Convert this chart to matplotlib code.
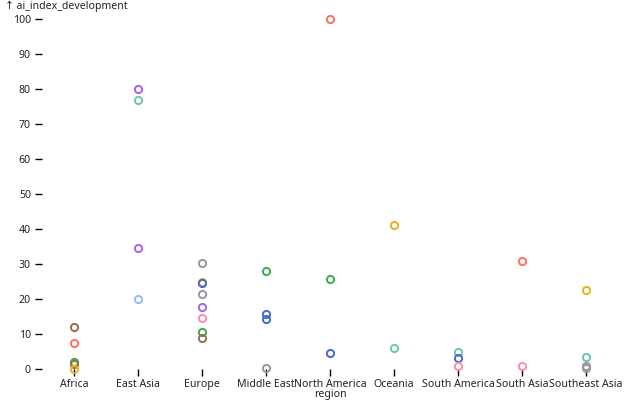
import matplotlib.pyplot as plt

# data
regions = ["Africa", "East Asia", "Europe", "Middle East", "North America",
           "Oceania", "South America", "South Asia", "Southeast Asia"]

point_region = [
    "Africa", "Africa", "Africa", "Africa", "Africa",
    "East Asia", "East Asia", "East Asia", "East Asia",
    "Europe", "Europe", "Europe", "Europe", "Europe", "Europe", "Europe", "Europe",
    "Middle East", "Middle East", "Middle East", "Middle East",
    "North America", "North America", "North America",
    "Oceania", "Oceania",
    "South America", "South America", "South America",
    "South Asia", "South Asia",
    "Southeast Asia", "Southeast Asia", "Southeast Asia", "Southeast Asia",
]
ai_index = [
    12.0, 7.4, 2.0, 1.4, 0.0,
    80.0, 77.0, 34.5, 20.0,
    30.2, 24.9, 24.6, 21.4, 17.8, 14.6, 10.6, 9.0,
    28.0, 15.6, 14.4, 0.2,
    100.0, 25.8, 4.5,
    41.2, 6.0,
    5.0, 3.2, 0.8,
    30.8, 1.0,
    22.5, 3.5, 1.0, 0.3,
]
# colour group of each point (index into the categorical scheme)
point_group = [
    8, 2, 4, 8, 1,
    6, 3, 6, 7,
    9, 1, 0, 9, 6, 5, 4, 8,
    4, 0, 0, 9,
    2, 4, 0,
    1, 3,
    3, 0, 5,
    2, 5,
    1, 3, 9, 9,
]

palette = ["#4269d0", "#efb118", "#ff725c", "#6cc5b0", "#3ca951",
           "#ff8ab7", "#a463f2", "#97bbf5", "#9c6b4e", "#9498a0"]

plt.rcParams["font.family"] = ["Noto Sans", "DejaVu Sans"]
plt.rcParams["font.size"] = 7.6

fig = plt.figure(figsize=(6.4, 4.0), dpi=100)
ax = fig.add_axes([42 / 640, 31 / 400, 576 / 640, 350 / 400])

pos = {r: i for i, r in enumerate(regions)}
for reg, val, g in zip(point_region, ai_index, point_group):
    ax.plot(pos[reg], val, "o", markersize=5.2, markerfacecolor="none",
            markeredgecolor=palette[g], markeredgewidth=1.4, clip_on=False)

ax.set_xlim(-0.5, len(regions) - 0.5)
ax.set_ylim(0, 100)
ax.set_xticks(range(len(regions)))
ax.set_xticklabels(regions)
ax.set_yticks(range(0, 101, 10))

for s in ax.spines.values():
    s.set_visible(False)
ax.tick_params(axis="y", length=5, width=1, pad=3, labelcolor="#222222")
ax.tick_params(axis="x", length=5, width=1, pad=2, labelcolor="#222222")

fig.text(5 / 640, 1 - 6 / 400, "↑ ai_index_development", ha="left", va="center",
         fontsize=7.6, color="#222222")
fig.text(330 / 640, 1 - 394 / 400, "region", ha="center", va="center",
         fontsize=7.6, color="#222222")

fig.savefig("out.png", dpi=100)
